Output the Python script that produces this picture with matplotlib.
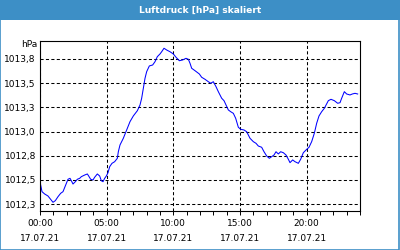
import matplotlib
matplotlib.use("Agg")
import matplotlib.pyplot as plt
from matplotlib.patches import Rectangle

TITEL = "Luftdruck [hPa] skaliert"
EINHEIT = "hPa"
DATUM = "17.07.21"

# Stunden seit 00:00 und Luftdruck in hPa
STUNDEN = [
    0.05, 0.15, 0.35, 0.60, 0.80, 0.975, 1.15, 1.35, 1.55, 1.725,
    1.90, 2.10, 2.25, 2.35, 2.475, 2.65, 2.80, 2.975, 3.10, 3.35,
    3.55, 3.65, 3.80, 3.975, 4.10, 4.30, 4.475, 4.60, 4.725, 4.85,
    4.975, 5.10, 5.225, 5.40, 5.60, 5.80, 5.875, 6.00, 6.25, 6.50,
    6.75, 7.00, 7.30, 7.50, 7.625, 7.75, 7.875, 8.00, 8.20, 8.45,
    8.625, 8.80, 9.00, 9.125, 9.30, 9.50, 9.75, 10.00, 10.20, 10.45,
    10.70, 10.95, 11.125, 11.25, 11.375, 11.625, 11.95, 12.125, 12.375, 12.625,
    12.80, 13.00, 13.20, 13.375, 13.625, 13.80, 13.95, 14.125, 14.30, 14.50,
    14.675, 14.875, 15.05, 15.30, 15.50, 15.75, 16.00, 16.20, 16.375, 16.625,
    16.80, 17.00, 17.20, 17.375, 17.55, 17.70, 17.875, 18.05, 18.25, 18.45,
    18.625, 18.75, 18.95, 19.125, 19.375, 19.55, 19.75, 19.975, 20.175, 20.375,
    20.575, 20.75, 20.925, 21.125, 21.325, 21.50, 21.625, 21.825, 22.075, 22.325,
    22.50, 22.625, 22.825, 23.00, 23.25, 23.425, 23.625, 23.825,
]

DRUCK = [
    1012.447, 1012.378, 1012.354, 1012.333, 1012.299, 1012.268, 1012.285, 1012.326, 1012.361, 1012.378,
    1012.437, 1012.506, 1012.516, 1012.491, 1012.457, 1012.481, 1012.506, 1012.516, 1012.533, 1012.550,
    1012.561, 1012.540, 1012.506, 1012.499, 1012.527, 1012.561, 1012.540, 1012.491, 1012.481, 1012.516,
    1012.540, 1012.574, 1012.636, 1012.671, 1012.688, 1012.723, 1012.791, 1012.861, 1012.930, 1013.016,
    1013.102, 1013.161, 1013.215, 1013.274, 1013.344, 1013.447, 1013.550, 1013.619, 1013.678, 1013.688,
    1013.722, 1013.774, 1013.802, 1013.825, 1013.861, 1013.843, 1013.825, 1013.802, 1013.768, 1013.732,
    1013.740, 1013.757, 1013.747, 1013.706, 1013.654, 1013.629, 1013.595, 1013.561, 1013.540, 1013.515,
    1013.499, 1013.515, 1013.464, 1013.412, 1013.344, 1013.319, 1013.274, 1013.223, 1013.205, 1013.188,
    1013.137, 1013.044, 1013.023, 1013.016, 1012.998, 1012.930, 1012.895, 1012.878, 1012.850, 1012.837,
    1012.791, 1012.747, 1012.723, 1012.740, 1012.757, 1012.791, 1012.768, 1012.791, 1012.781, 1012.757,
    1012.713, 1012.678, 1012.706, 1012.688, 1012.671, 1012.713, 1012.781, 1012.812, 1012.837, 1012.895,
    1012.982, 1013.085, 1013.161, 1013.205, 1013.240, 1013.285, 1013.319, 1013.333, 1013.319, 1013.292,
    1013.298, 1013.344, 1013.412, 1013.388, 1013.378, 1013.388, 1013.395, 1013.388,
]

Y_TICKS = [1012.25, 1012.5, 1012.75, 1013.0, 1013.25, 1013.5, 1013.75]
Y_LABELS = ["1012,3", "1012,5", "1012,8", "1013,0", "1013,3", "1013,5", "1013,8"]
X_TICKS = [0, 5, 10, 15, 20]
X_LABELS = ["00:00", "05:00", "10:00", "15:00", "20:00"]

BLAU_RAHMEN = "#3d8fc6"
LINIE = "#0000ff"


def main() -> None:
    fig = plt.figure(figsize=(4, 2.5), dpi=100)
    fig.patch.set_facecolor("white")

    # Kopfzeile und Rahmen
    fig.patches.append(Rectangle((0, 0.92), 1, 0.08, transform=fig.transFigure,
                                 facecolor=BLAU_RAHMEN, edgecolor="none", zorder=0))
    fig.patches.append(Rectangle((0.001, 0.002), 0.997, 0.996, transform=fig.transFigure,
                                 facecolor="none", edgecolor=BLAU_RAHMEN, linewidth=1.2, zorder=1))
    fig.text(0.5, 0.958, TITEL, color="white", fontsize=6.6, fontweight="bold",
             ha="center", va="center")

    ax = fig.add_axes([0.1, 0.156, 0.8, 0.68])
    ax.plot(STUNDEN, DRUCK, color=LINIE, linewidth=0.75)

    ax.set_xlim(0, 24)
    ax.set_ylim(1012.178, 1013.936)

    ax.set_xticks(X_TICKS)
    ax.set_xticklabels([f"{t}\n{DATUM}" for t in X_LABELS], linespacing=1.85)
    ax.set_xticks(range(0, 25), minor=True)
    ax.set_yticks(Y_TICKS)
    ax.set_yticklabels(Y_LABELS)

    ax.tick_params(axis="x", which="both", direction="out", length=3, width=0.7,
                   labelsize=6.5, pad=2.5)
    ax.tick_params(axis="y", length=0, labelsize=6.5, pad=3)

    ax.grid(True, which="major", color="black", linestyle=(0, (3, 2.2)), linewidth=0.75)
    for s in ax.spines.values():
        s.set_linewidth(0.8)

    fig.text(37 / 400, 1 - 44.7 / 250, EINHEIT, fontsize=6.5, ha="right", va="center")

    fig.savefig("out.png", dpi=100)
    plt.close(fig)


if __name__ == "__main__":
    main()
